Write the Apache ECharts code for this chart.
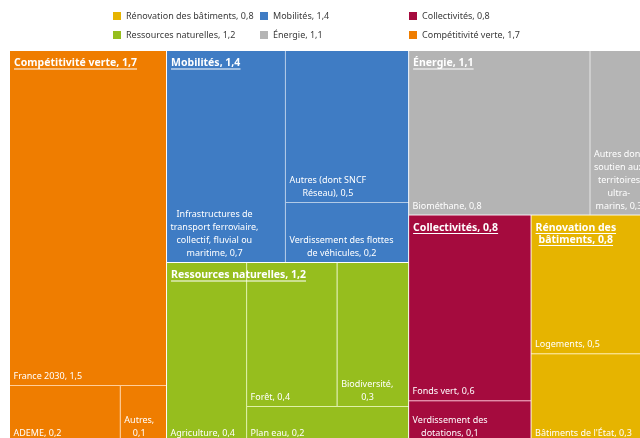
<!DOCTYPE html>
<html><head><meta charset="utf-8">
<script src="https://cdn.jsdelivr.net/npm/echarts@6/dist/echarts.min.js"></script>
<style>html,body{margin:0;padding:0;background:#fff}#c{width:640px;height:438px}</style>
</head><body><div id="c"></div>
<script>
const FONT = 'Noto Sans';

// ---- top-level categories (values in Md€) ----
const groups = ['Compétitivité verte', 'Mobilités', 'Ressources naturelles', 'Énergie', 'Collectivités', 'Rénovation des bâtiments'];
const groupValues = [1.68, 1.40, 1.19, 1.10, 0.76, 0.76];
const groupColors = ['#EF7D00', '#3F7CC4', '#96BE1E', '#B4B4B4', '#A50B3E', '#E6B400'];
const groupHeaders = ['Compétitivité verte, {v}', 'Mobilités, {v}', 'Ressources naturelles, {v}', 'Énergie, {v}', 'Collectivités, {v}', 'Rénovation des\nbâtiments, {v}'];

// ---- sub-items ----
const compNames = ['France 2030', 'ADEME', 'Autres'];
const compValues = [1.50, 0.18, 0.075];
const compLabels = ['France 2030, {v}', 'ADEME, {v}', 'Autres,\n{v}'];

const mobNames = ['Infrastructures de transport ferroviaire, collectif, fluvial ou maritime', 'Autres (dont SNCF Réseau)', 'Verdissement des flottes de véhicules'];
const mobValues = [0.70, 0.52, 0.205];
const mobLabels = ['Infrastructures de\ntransport ferroviaire,\ncollectif, fluvial ou\nmaritime, {v}', 'Autres (dont SNCF\nRéseau), {v}', 'Verdissement des flottes\nde véhicules, {v}'];

const resNames = ['Agriculture', 'Forêt', 'Biodiversité', 'Plan eau'];
const resValues = [0.42, 0.38, 0.30, 0.17];
const resLabels = ['Agriculture, {v}', 'Forêt, {v}', 'Biodiversité,\n{v}', 'Plan eau, {v}'];
const resBlocks = [[0], [1, 2], [3]]; // partition of the block as in the picture

const eneNames = ['Biométhane', 'Autres dont soutien aux territoires ultra-marins'];
const eneValues = [0.80, 0.28];
const eneLabels = ['Biométhane, {v}', 'Autres dont\nsoutien aux\nterritoires\nultra-\nmarins, {v}'];

const colNames = ['Fonds vert', 'Verdissement des dotations'];
const colValues = [0.60, 0.135];
const colLabels = ['Fonds vert, {v}', 'Verdissement des\ndotations, {v}'];

const renNames = ['Logements', "Bâtiments de l'État"];
const renValues = [0.50, 0.32];
const renLabels = ['Logements, {v}', "Bâtiments de l'État, {v}"];

const legendColumns = [[5, 2], [1, 3], [4, 0]];

// ---- helpers ----
const fmt = v => v.toFixed(1).replace('.', ',');
const mctx = document.createElement('canvas').getContext('2d');
function tw(t, size, weight) { mctx.font = weight + ' ' + size + 'px ' + FONT; return mctx.measureText(t).width; }
const CLEAR = 'rgba(0,0,0,0)';

const LEAF_SIZE = 9, LEAF_LH = 13, LEAF_BOTTOM = 2, LEAF_LEFT = 3.5;
const leafRich = { lb: { fontFamily: FONT, fontSize: LEAF_SIZE, color: '#ffffff', lineHeight: LEAF_LH } };
function leafText(tpl, value) {
  const lines = tpl.replace('{v}', fmt(value)).split('\n');
  const ws = lines.map(l => tw(l, LEAF_SIZE, 'normal'));
  const W = Math.max.apply(null, ws);
  return {
    n: lines.length,
    text: lines.map((l, i) => {
      const off = Math.round(W - ws[i]);
      let s = '';
      if (off > 0) { const k = 'sp' + off; leafRich[k] = { width: off / 2, fontSize: LEAF_SIZE, lineHeight: LEAF_LH }; s = '{' + k + '| }'; }
      return s + '{lb|' + l + '}';
    }).join('\n')
  };
}

const HD_SIZE = 10.5, HD_LH = 10;
const hdRich = { hd: { fontFamily: FONT, fontSize: HD_SIZE, fontWeight: 'bold', color: '#ffffff', lineHeight: HD_LH } };
function headerText(tpl, value) {
  const lines = tpl.replace('{v}', fmt(value)).split('\n');
  const ws = lines.map(l => tw(l, HD_SIZE, 'bold'));
  const W = Math.max.apply(null, ws);
  const out = [];
  lines.forEach((l, i) => {
    const off = Math.round(W - ws[i]);
    let s1 = '', s2 = '';
    if (off > 0) {
      hdRich['hs' + off] = { width: off / 2, fontSize: HD_SIZE, lineHeight: HD_LH };
      hdRich['us' + off] = { width: off / 2, fontSize: 1, height: 1, lineHeight: 2 };
      s1 = '{hs' + off + '| }'; s2 = '{us' + off + '| }';
    }
    const uw = Math.round(ws[i] * 2);
    hdRich['ul' + uw] = { width: uw / 2, height: 1, lineHeight: 2, fontSize: 1, backgroundColor: '#ffffff' };
    out.push(s1 + '{hd|' + l + '}');
    out.push(s2 + '{ul' + uw + '| }');
  });
  return out.join('\n');
}

function buildOption(heights) {
  function leaf(name, value, tpl) {
    const t = leafText(tpl, value);
    const h = heights && heights[name] != null ? heights[name] : 0;
    const padTop = Math.max(0, h - t.n * LEAF_LH - LEAF_BOTTOM);
    return { name: name, value: value, label: { formatter: () => t.text, padding: [padTop, 0, 0, LEAF_LEFT] } };
  }
  const leaves = (names, values, tpls) => names.map((n, i) => leaf(n, values[i], tpls[i]));

  const resChildren = resBlocks.map(b => b.length === 1
    ? leaf(resNames[b[0]], resValues[b[0]], resLabels[b[0]])
    : { name: b.map(k => resNames[k]).join(' / '), itemStyle: { gapWidth: 1, borderColorSaturation: 0.8 },
        children: b.map(k => leaf(resNames[k], resValues[k], resLabels[k])) });

  const childrenByGroup = [
    leaves(compNames, compValues, compLabels),
    leaves(mobNames, mobValues, mobLabels),
    resChildren,
    leaves(eneNames, eneValues, eneLabels),
    leaves(colNames, colValues, colLabels),
    leaves(renNames, renValues, renLabels)
  ];

  const treeData = groups.map((g, i) => ({
    name: g, value: groupValues[i], itemStyle: { color: groupColors[i] }, children: childrenByGroup[i]
  }));
  const headerData = groups.map((g, i) => {
    const txt = headerText(groupHeaders[i], groupValues[i]);
    return { name: g, value: groupValues[i], itemStyle: { color: CLEAR, borderColor: CLEAR }, label: { formatter: () => txt } };
  });

  const box = { left: 10, top: 51, width: 643, height: 391 };
  const common = Object.assign({
    type: 'treemap', squareRatio: 0.74, sort: false, roam: false, nodeClick: false,
    breadcrumb: { show: false }, silent: true, animation: false
  }, box);

  return {
    animation: false,
    textStyle: { fontFamily: FONT },
    legend: legendColumns.map((col, i) => ({
      orient: 'vertical', left: [113, 260, 409][i], top: 10, padding: 0,
      itemWidth: 8, itemHeight: 8, itemGap: 7, icon: 'rect', selectedMode: false,
      data: col.map(k => groups[k]),
      formatter: n => n + ', ' + fmt(groupValues[groups.indexOf(n)]),
      textStyle: { fontFamily: FONT, fontSize: 9, color: '#3a3a3a', lineHeight: 12 }
    })),
    series: [
      Object.assign({}, common, {
        name: 'blocks', z: 2,
        itemStyle: { borderWidth: 0, gapWidth: 0, borderColor: '#ffffff' },
        levels: [
          { itemStyle: { borderWidth: 0, gapWidth: 1, borderColor: '#ffffff' } },
          { itemStyle: { borderWidth: 0, gapWidth: 1, borderColorSaturation: 0.8 } },
          { itemStyle: { borderWidth: 0, gapWidth: 0 } },
          { itemStyle: { borderWidth: 0, gapWidth: 0 } }
        ],
        label: { show: true, position: 'insideTopLeft', distance: 0, rich: leafRich },
        upperLabel: { show: false },
        data: treeData
      }),
      Object.assign({}, common, {
        name: 'headers', z: 6,
        itemStyle: { color: CLEAR, borderColor: CLEAR, borderWidth: 0, gapWidth: 0 },
        levels: [
          { color: [CLEAR], itemStyle: { color: CLEAR, borderWidth: 0, gapWidth: 1, borderColor: CLEAR } },
          { itemStyle: { color: CLEAR, borderColor: CLEAR } }
        ],
        label: { show: true, position: 'insideTopLeft', distance: 4, padding: [3, 0, 0, 0], rich: hdRich },
        data: headerData
      })
    ].concat(groups.map((g, i) => ({
      type: 'custom', name: g, coordinateSystem: 'none', data: [],
      renderItem: () => null, itemStyle: { color: groupColors[i] }
    })))
  };
}

const chart = echarts.init(document.getElementById('c'));
chart.setOption(buildOption(null));
// read the leaf rectangles computed by the treemap layout, then place labels at their bottom
const heights = {};
try {
  const d = chart.getModel().getSeriesByIndex(0).getData();
  for (let i = 0; i < d.count(); i++) {
    const lay = d.getItemLayout(i);
    if (lay) heights[d.getName(i)] = lay.height;
  }
} catch (e) {}
chart.setOption(buildOption(heights), { notMerge: true });
</script>
</body></html>
